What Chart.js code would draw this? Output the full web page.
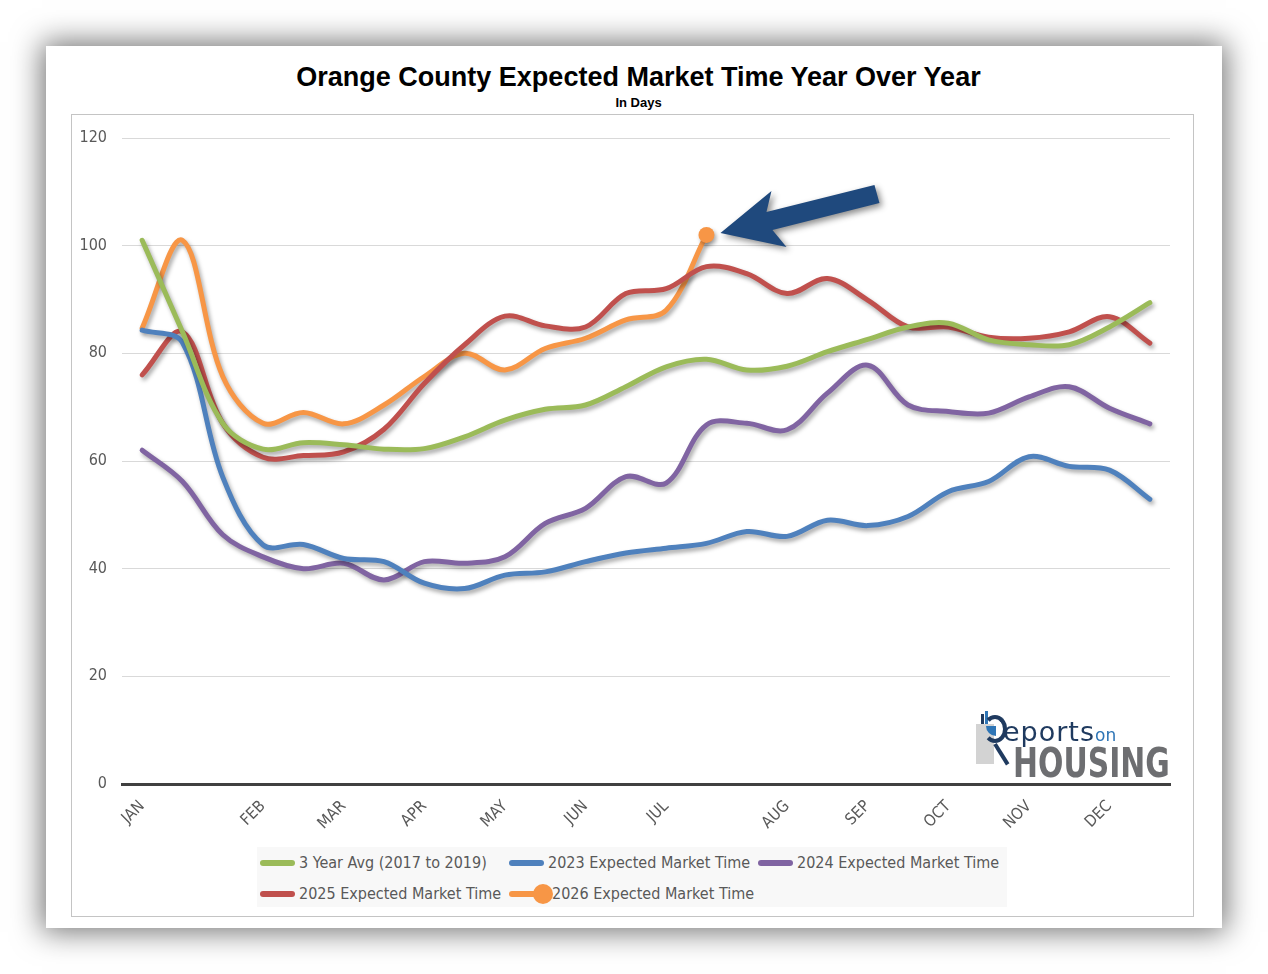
<!DOCTYPE html>
<html>
<head>
<meta charset="utf-8">
<script src="https://cdn.jsdelivr.net/npm/chart.js@4.4.1/dist/chart.umd.min.js"></script>
<style>
  html, body { margin:0; padding:0; background:#ffffff; width:1268px; height:974px; overflow:hidden; }
  #card { position:absolute; left:46px; top:46px; width:1176px; height:882px; background:#fff;
          box-shadow: 0 0 28px 4px rgba(0,0,0,0.55); }
  #frame { position:absolute; left:71px; top:114px; width:1121px; height:801px; border:1px solid #c4c4c4; }
  #title { position:absolute; left:0; width:1277px; top:62px; text-align:center;
           font-family:"Liberation Sans", Arial, sans-serif; font-weight:bold; font-size:27px; color:#000; }
  #subtitle { position:absolute; left:0; width:1277px; top:95px; text-align:center;
           font-family:"Liberation Sans", Arial, sans-serif; font-weight:bold; font-size:13px; color:#000; }
  #chart { position:absolute; left:0; top:0; }
  #legend { position:absolute; left:257px; top:847px; width:750px; height:60px; background:#f8f8f8; }
  .li { position:absolute; height:20px; font-family:"DejaVu Sans Condensed",sans-serif;
        font-size:16px; color:#595959; white-space:nowrap; line-height:20px; }
  .sw { position:absolute; top:7px; left:3px; width:35px; height:6px; border-radius:3px; }
  .dot { position:absolute; top:0px; left:27px; width:20px; height:20px; border-radius:50%; }
  .tx { position:absolute; left:42px; top:0; }
  #logo { position:absolute; left:975px; top:708px; width:200px; height:75px; }
</style>
</head>
<body>
<div id="card"></div>
<div id="frame"></div>
<div id="title">Orange County Expected Market Time Year Over Year</div>
<div id="subtitle">In Days</div>
<canvas id="chart" width="1268" height="974"></canvas>
<div id="legend"></div>
<div id="logo">
  <div style="position:absolute;left:1px;top:16px;width:18px;height:40px;background:#d3d3d3;"></div>
  <div style="position:absolute;left:6px;top:6px;width:3px;height:10px;background:#1f3a5f;"></div>
  <div style="position:absolute;left:10px;top:3px;width:3px;height:13px;background:#2e75b6;"></div>
  <div style="position:absolute;left:8px;top:7px;width:16px;height:20px;border:4px solid #1f3a5f;border-left-color:transparent;border-radius:50%;"></div>
  <div style="position:absolute;left:11px;top:18px;width:10px;height:10px;background:#2e75b6;border-radius:0 0 0 10px;"></div>
  <div style="position:absolute;left:20px;top:34px;width:24px;height:4px;background:#1f3a5f;transform:rotate(58deg);transform-origin:left center;"></div>
  <div style="position:absolute;left:28px;top:8px;font-family:'DejaVu Sans',sans-serif;font-size:27px;line-height:31px;color:#1f3a5f;letter-spacing:1px;">eports<span style="font-size:17px;color:#2e75b6;letter-spacing:0;">on</span></div>
  <div style="position:absolute;left:38px;top:35px;font-family:'DejaVu Sans Condensed',sans-serif;font-weight:bold;font-size:40px;line-height:40px;color:#6d6e71;transform:scaleX(0.83);transform-origin:left top;">HOUSING</div>
</div>
<script>
const labels = ['JAN','','','FEB','','MAR','','APR','','MAY','','JUN','','JUL','','','AUG','','SEP','','OCT','','NOV','','DEC',''];
const avg3Yr = [101,84,67,62.2,63.4,63,62.2,62.3,64.5,67.6,69.6,70.4,73.8,77.5,78.9,76.9,77.6,80.3,82.6,84.9,85.6,82.5,81.6,81.6,84.9,89.4];
const mt2023 = [84.3,82,57,44.4,44.5,41.9,41.3,37.3,36.3,38.8,39.4,41.3,42.9,43.8,44.7,46.9,46,49,48,49.7,54.3,56.2,60.8,59,58.3,52.9];
const mt2024 = [62,56.2,46.3,42.2,40,41,37.9,41.3,41,42.2,48.4,51.2,57.1,55.9,66.7,67,65.8,72.6,77.8,70.4,69.2,68.9,71.9,73.8,69.8,66.9];
const mt2025 = [76,84,67,60.7,61,61.7,65.9,74.4,81.6,86.9,85.1,84.9,91.1,92,96.1,94.8,91.1,93.9,89.9,84.9,84.9,83,82.8,84,86.8,81.9];
const mt2026 = [84.7,101,75.7,67,69,66.9,70.4,75.7,80,76.9,80.9,82.8,86.2,88,102];
const seriesNames = ['3 Year Avg (2017 to 2019)','2023 Expected Market Time','2024 Expected Market Time','2025 Expected Market Time','2026 Expected Market Time'];
const seriesColors = ['#9bbb59','#4f81bd','#8064a2','#c0504d','#f79646'];
const yTicks = {min:0, max:120, step:20};

const mkSet = (i, data) => ({
  label: seriesNames[i], data, borderColor: seriesColors[i], backgroundColor: seriesColors[i],
  borderWidth: 5, tension: 0.35, pointRadius: 0, pointHoverRadius: 0, fill:false,
  borderCapStyle:'round', borderJoinStyle:'round'
});
const ds = [mkSet(0,avg3Yr), mkSet(1,mt2023), mkSet(2,mt2024), mkSet(3,mt2025), mkSet(4,mt2026)];
ds[4].pointRadius = mt2026.map((v,i)=> i===mt2026.length-1 ? 8 : 0);
ds[4].pointBorderWidth = 0;

const shadowPlugin = {
  id:'shadow',
  beforeDatasetDraw(chart){ const c=chart.ctx; c.save(); c.shadowColor='rgba(0,0,0,0.35)'; c.shadowBlur=4; c.shadowOffsetX=2; c.shadowOffsetY=3; },
  afterDatasetDraw(chart){ chart.ctx.restore(); }
};
const arrowPlugin = {
  id:'arrow',
  afterDatasetsDraw(chart){
    const meta = chart.getDatasetMeta(4);
    const p = meta.data[meta.data.length-1];
    const c = chart.ctx, x=p.x, y=p.y;
    const pts = [[14,-2],[65,-44],[60,-23],[168,-50],[173,-32],[66,-5],[80,12]];
    c.save();
    c.shadowColor='rgba(0,0,0,0.45)'; c.shadowBlur=6; c.shadowOffsetX=3; c.shadowOffsetY=3;
    c.fillStyle='#1f497d';
    c.beginPath();
    pts.forEach((q,i)=>{ i? c.lineTo(x+q[0],y+q[1]) : c.moveTo(x+q[0],y+q[1]); });
    c.closePath(); c.fill();
    c.restore();
  }
};

const chart = new Chart(document.getElementById('chart'), {
  type:'line',
  data:{ labels, datasets: ds },
  options:{
    responsive:false, animation:false, devicePixelRatio:1,
    layout:{ padding:{ left:72, top:138, right:98, bottom:130 } },
    plugins:{ legend:{display:false}, title:{display:false}, tooltip:{enabled:false} },
    scales:{
      x:{ type:'category', offset:true,
          grid:{ display:false, drawTicks:false },
          border:{ display:true, color:'#404040', width:3 },
          ticks:{ autoSkip:false, maxRotation:45, minRotation:45, padding:13, color:'#595959',
                  font:{ family:"'DejaVu Sans Condensed',sans-serif", size:16 } },
          afterFit(s){ s.height = 60; } },
      y:{ min:yTicks.min, max:yTicks.max,
          grid:{ color:(c)=> c.tick && c.tick.value===0 ? 'rgba(0,0,0,0)' : '#d9d9d9', lineWidth:1, drawTicks:false },
          border:{ display:false },
          ticks:{ stepSize:yTicks.step, padding:15, color:'#595959',
                  font:{ family:"'DejaVu Sans Condensed',sans-serif", size:16 } },
          afterFit(s){ s.width = 50; } }
    }
  },
  plugins:[shadowPlugin, arrowPlugin]
});

// legend built from datasets
const legend = document.getElementById('legend');
const pos = [[0,6],[249,6],[498,6],[0,37],[249,37]];
chart.data.datasets.forEach((d,i)=>{
  const el = document.createElement('div'); el.className='li';
  el.style.left = pos[i][0]+'px'; el.style.top = pos[i][1]+'px';
  const sw = document.createElement('div'); sw.className='sw'; sw.style.background=d.borderColor; el.appendChild(sw);
  if (i===4){ const dt=document.createElement('div'); dt.className='dot'; dt.style.background=d.borderColor; el.appendChild(dt); }
  const tx = document.createElement('span'); tx.className='tx'; tx.textContent=d.label;
  if (i===4) tx.style.left='46px';
  el.appendChild(tx);
  legend.appendChild(el);
});
</script>
</body>
</html>
